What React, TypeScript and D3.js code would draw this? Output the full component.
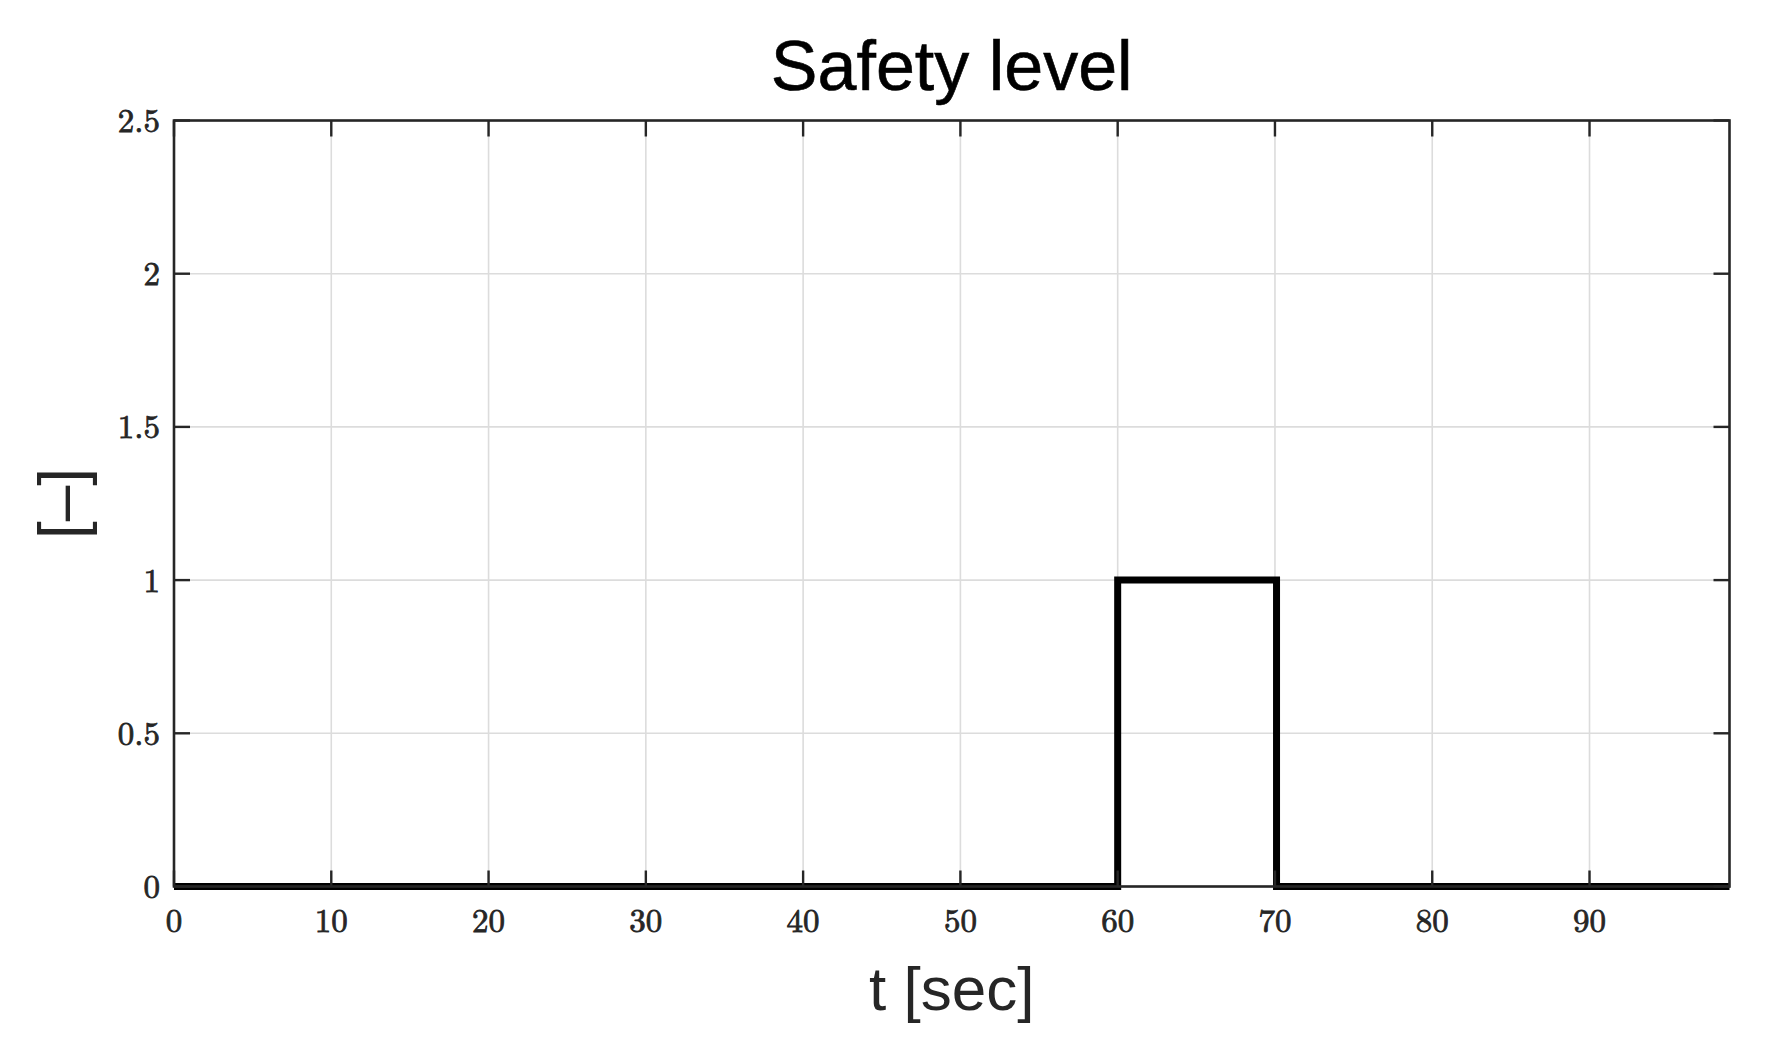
import React from "react";
import * as d3 from "d3";

const times = [0, 60, 70.1, 98.9];
const values = [0, 1, 0, 0];
const xTicks = [0, 10, 20, 30, 40, 50, 60, 70, 80, 90];
const yTicks = [0, 0.5, 1, 1.5, 2, 2.5];
const title = "Safety level";
const xLabel = "t [sec]";
const yLabel = "[–]";

const W = 1776;
const H = 1056;
const L = 174, R = 1729.5, T = 120.5, B = 886.5;

export default function App() {
  const x = d3.scaleLinear().domain([0, 98.9]).range([L, R]);
  const y = d3.scaleLinear().domain([0, 2.5]).range([B, T]);
  const pts: [number, number][] = times.map((t, i) => [t, values[i]]);
  const line = d3
    .line<[number, number]>()
    .x((d) => x(d[0]))
    .y((d) => y(d[1]))
    .curve(d3.curveStepAfter);
  const axisColor = "#262626";
  const tick = 16;
  const serif = "'Latin Modern Roman', 'CMU Serif', 'Liberation Serif', 'DejaVu Serif', serif";
  return (
    <svg
      width={W}
      height={H}
      style={{ position: "absolute", left: 0, top: 0, background: "#fff" }}
    >
      <rect x={0} y={0} width={W} height={H} fill="#fff" />
      {/* grid */}
      {xTicks.map((t) => (
        <line key={"gx" + t} x1={x(t)} x2={x(t)} y1={T} y2={B} stroke="#dcdcdc" strokeWidth={1.6} />
      ))}
      {yTicks.map((t) => (
        <line key={"gy" + t} x1={L} x2={R} y1={y(t)} y2={y(t)} stroke="#dcdcdc" strokeWidth={1.6} />
      ))}
      {/* data */}
      <path d={line(pts) || ""} fill="none" stroke="#000" strokeWidth={7} strokeLinejoin="miter" />
      {/* box */}
      <rect x={L} y={T} width={R - L} height={B - T} fill="none" stroke={axisColor} strokeWidth={2.6} />
      {/* ticks */}
      {xTicks.map((t) => (
        <g key={"tx" + t}>
          <line x1={x(t)} x2={x(t)} y1={B} y2={B - tick} stroke={axisColor} strokeWidth={2.4} />
          <line x1={x(t)} x2={x(t)} y1={T} y2={T + tick} stroke={axisColor} strokeWidth={2.4} />
          <text
            x={x(t)}
            y={932}
            textAnchor="middle"
            fontFamily={serif}
            fontSize={33}
            fill={axisColor}
            stroke={axisColor}
            strokeWidth={0.8}
          >
            {t}
          </text>
        </g>
      ))}
      {yTicks.map((t) => (
        <g key={"ty" + t}>
          <line x1={L} x2={L + tick} y1={y(t)} y2={y(t)} stroke={axisColor} strokeWidth={2.4} />
          <line x1={R} x2={R - tick} y1={y(t)} y2={y(t)} stroke={axisColor} strokeWidth={2.4} />
          <text
            x={160}
            y={y(t)}
            dy="0.35em"
            textAnchor="end"
            fontFamily={serif}
            fontSize={33}
            fill={axisColor}
            stroke={axisColor}
            strokeWidth={0.8}
          >
            {t}
          </text>
        </g>
      ))}
      {/* title */}
      <text
        x={(L + R) / 2}
        y={90}
        textAnchor="middle"
        fontFamily="'Liberation Sans', Arial, sans-serif"
        fontSize={70}
        fill="#000"
        stroke="#000"
        strokeWidth={0.6}
      >
        {title}
      </text>
      <text
        x={(L + R) / 2}
        y={1010}
        textAnchor="middle"
        fontFamily="'Liberation Sans', Arial, sans-serif"
        fontSize={62}
        fill={axisColor}
      >
        {xLabel}
      </text>
      <text
        transform={`translate(84, ${(T + B) / 2}) rotate(-90)`}
        textAnchor="middle"
        fontFamily="'Liberation Sans', Arial, sans-serif"
        fontSize={64}
        fill={axisColor}
      >
        {yLabel}
      </text>
    </svg>
  );
}
